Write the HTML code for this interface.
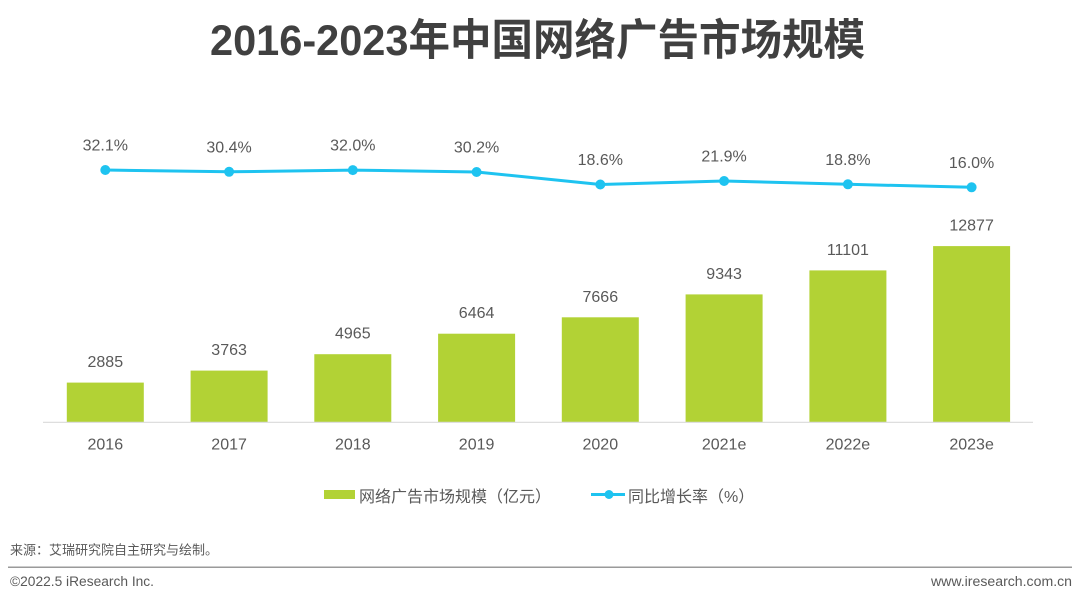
<!DOCTYPE html>
<html><head><meta charset="utf-8"><style>
html,body{margin:0;padding:0;background:#fff;}
svg{display:block;}
</style></head><body>
<svg width="1080" height="611" viewBox="0 0 1080 611" xmlns="http://www.w3.org/2000/svg" font-family="'Liberation Sans','Noto Sans CJK SC',sans-serif">
<rect width="1080" height="611" fill="#fff"/>
<text x="210" y="55" font-size="43" font-weight="bold" fill="#404040" textLength="655" lengthAdjust="spacingAndGlyphs">2016-2023年中国网络广告市场规模</text>

<!-- bars -->
<g fill="#b2d235">
<rect x="66.8" y="382.6" width="77" height="39.4"/>
<rect x="190.6" y="370.6" width="77" height="51.4"/>
<rect x="314.3" y="354.2" width="77" height="67.8"/>
<rect x="438.1" y="333.7" width="77" height="88.3"/>
<rect x="561.8" y="317.3" width="77" height="104.7"/>
<rect x="685.6" y="294.4" width="77" height="127.6"/>
<rect x="809.4" y="270.4" width="77" height="151.6"/>
<rect x="933.1" y="246.1" width="77" height="175.9"/>
</g>
<line x1="43" y1="422.3" x2="1033" y2="422.3" stroke="#d9d9d9" stroke-width="1.2"/>

<g font-size="16" fill="#595959" text-anchor="middle">
<text x="105.3" y="367">2885</text>
<text x="229.1" y="355">3763</text>
<text x="352.8" y="338.7">4965</text>
<text x="476.6" y="318.2">6464</text>
<text x="600.3" y="301.8">7666</text>
<text x="724.1" y="278.9">9343</text>
<text x="847.9" y="254.9">11101</text>
<text x="971.6" y="230.6">12877</text>

<text x="105.3" y="449.5">2016</text>
<text x="229.1" y="449.5">2017</text>
<text x="352.8" y="449.5">2018</text>
<text x="476.6" y="449.5">2019</text>
<text x="600.3" y="449.5">2020</text>
<text x="724.1" y="449.5">2021e</text>
<text x="847.9" y="449.5">2022e</text>
<text x="971.6" y="449.5">2023e</text>

<text x="105.3" y="150.5">32.1%</text>
<text x="229.1" y="152.3">30.4%</text>
<text x="352.8" y="150.6">32.0%</text>
<text x="476.6" y="152.5">30.2%</text>
<text x="600.3" y="165">18.6%</text>
<text x="724.1" y="161.5">21.9%</text>
<text x="847.9" y="164.8">18.8%</text>
<text x="971.6" y="167.8">16.0%</text>
</g>

<polyline fill="none" stroke="#1ec3f0" stroke-width="3" stroke-linejoin="round" points="105.3,170 229.1,171.8 352.8,170.1 476.6,172 600.3,184.5 724.1,181 847.9,184.3 971.6,187.3"/>
<g fill="#1ec3f0">
<circle cx="105.3" cy="170" r="5"/>
<circle cx="229.1" cy="171.8" r="5"/>
<circle cx="352.8" cy="170.1" r="5"/>
<circle cx="476.6" cy="172" r="5"/>
<circle cx="600.3" cy="184.5" r="5"/>
<circle cx="724.1" cy="181" r="5"/>
<circle cx="847.9" cy="184.3" r="5"/>
<circle cx="971.6" cy="187.3" r="5"/>
</g>

<!-- legend -->
<rect x="324" y="490" width="31" height="9" fill="#b2d235"/>
<text x="359" y="502" font-size="16" fill="#595959">网络广告市场规模（亿元）</text>
<line x1="591" y1="494.5" x2="625" y2="494.5" stroke="#1ec3f0" stroke-width="3"/>
<circle cx="609" cy="494.5" r="4.5" fill="#1ec3f0"/>
<text x="628" y="502" font-size="16" fill="#595959">同比增长率（%）</text>

<!-- footer -->
<text x="10" y="554.5" font-size="13" fill="#595959">来源：艾瑞研究院自主研究与绘制。</text>
<line x1="8" y1="567.3" x2="1072" y2="567.3" stroke="#9a9a9a" stroke-width="1.5"/>
<text x="10" y="586" font-size="13.5" fill="#595959" textLength="144" lengthAdjust="spacingAndGlyphs">©2022.5 iResearch Inc.</text>
<text x="931" y="586" font-size="13.5" fill="#595959" textLength="141" lengthAdjust="spacingAndGlyphs">www.iresearch.com.cn</text>
</svg>
</body></html>
